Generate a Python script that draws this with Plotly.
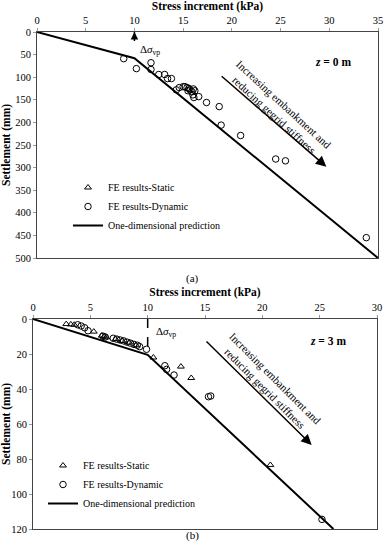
import plotly.graph_objects as go

# ---------- data: panel (a) z = 0 m ----------
a_dyn_stress = [8.9, 10.2, 11.7, 11.7, 12.5, 13.1, 13.4, 13.8, 14.3, 14.6, 15.0, 15.2, 15.4, 15.5,
                15.6, 15.7, 15.9, 16.0, 16.05, 16.1, 16.2, 16.6, 17.4, 18.7, 18.9, 20.9, 24.5, 25.5, 33.8]
a_dyn_settle = [59, 81, 68, 83, 94, 94, 103, 103, 128, 123, 121, 121, 123, 130,
                125, 128, 132, 139, 126, 145, 130, 143, 156, 165, 206, 229, 281, 285, 455]
a_stat_stress = []
a_stat_settle = []
a_pred_stress = [0, 10, 35]
a_pred_settle = [0, 58, 500]
a_vp_stress = [10, 10]
a_vp_settle = [0, 40]

# ---------- data: panel (b) z = 3 m ----------
b_stat_stress = [2.9, 3.3, 3.6, 5.3, 6.0, 6.2, 6.4, 7.2, 7.8, 8.4, 9.0, 10.5, 12.9, 13.8, 20.7]
b_stat_settle = [2.9, 3.1, 3.3, 7.2, 9.5, 10.0, 10.5, 11.5, 12.5, 13.5, 15.0, 22.0, 27.2, 33.7, 83.4]
b_dyn_stress = [3.9, 4.2, 4.5, 4.8, 6.1, 6.3, 7.0, 7.3, 7.6, 7.9, 8.2, 8.5, 8.8, 9.1, 9.3, 9.9,
                11.5, 11.65, 12.3, 15.3, 15.5, 25.2]
b_dyn_settle = [3.3, 4.0, 5.0, 6.7, 9.8, 10.3, 11.0, 11.5, 12.0, 12.5, 13.2, 13.8, 14.5, 15.0, 15.8, 17.3,
                26.7, 28.8, 32.0, 44.4, 44.0, 114.5]
b_pred_stress = [0, 10, 26.2]
b_pred_settle = [0, 20.5, 120]
b_vp_stress = [10, 10]
b_vp_settle = [0, 18]

a_xticks = [0, 5, 10, 15, 20, 25, 30, 35]
a_yticks = [0, 50, 100, 150, 200, 250, 300, 350, 400, 450, 500]
b_xticks = [0, 5, 10, 15, 20, 25, 30]
b_yticks = [0, 20, 40, 60, 80, 100, 120]

W, H = 385, 550
FONT = "Liberation Serif"

fig = go.Figure()

def add_panel(xa, ya, stat_x, stat_y, dyn_x, dyn_y, pred_x, pred_y, vp_x, vp_y, legend):
    fig.add_trace(go.Scatter(x=stat_x if stat_x else [None], y=stat_y if stat_y else [None],
                             mode="markers", name="FE results-Static",
                             marker=dict(symbol="triangle-up-open", size=6, color="black",
                                         line=dict(width=1, color="black")),
                             xaxis=xa, yaxis=ya, legend=legend))
    fig.add_trace(go.Scatter(x=dyn_x, y=dyn_y, mode="markers", name="FE results-Dynamic",
                             marker=dict(symbol="circle-open", size=6.5, color="black",
                                         line=dict(width=1, color="black")),
                             xaxis=xa, yaxis=ya, legend=legend))
    fig.add_trace(go.Scatter(x=pred_x, y=pred_y, mode="lines", name="One-dimensional prediction",
                             line=dict(color="black", width=2),
                             xaxis=xa, yaxis=ya, legend=legend))
    fig.add_trace(go.Scatter(x=vp_x, y=vp_y, mode="lines", showlegend=False,
                             line=dict(color="black", width=1.5, dash="dash"),
                             xaxis=xa, yaxis=ya))

add_panel("x", "y", a_stat_stress, a_stat_settle, a_dyn_stress, a_dyn_settle,
          a_pred_stress, a_pred_settle, a_vp_stress, a_vp_settle, "legend")
add_panel("x2", "y2", b_stat_stress, b_stat_settle, b_dyn_stress, b_dyn_settle,
          b_pred_stress, b_pred_settle, b_vp_stress, b_vp_settle, "legend2")

axis_common = dict(showline=True, linecolor="#444", linewidth=1, mirror=True, automargin=False,
                   showgrid=False, zeroline=False, ticks="outside", ticklen=3,
                   tickcolor="#999", tickfont=dict(family=FONT, size=10.5, color="black"))

fig.update_layout(
    width=W, height=H, margin=dict(l=0, r=0, t=0, b=0),
    paper_bgcolor="white", plot_bgcolor="white",
    font=dict(family=FONT, color="black"),
    xaxis=dict(domain=[37 / W, 378 / W], range=[0, 35], tickvals=a_xticks, side="top",
               anchor="y",
               title=dict(text="<b>Stress increment (kPa)</b>", font=dict(size=11.5), standoff=2),
               **axis_common),
    yaxis=dict(domain=[1 - 258 / H, 1 - 32 / H], range=[500, 0], tickvals=a_yticks, anchor="x",
               title=dict(text="<b>Settlement (mm)</b>", font=dict(size=11.5), standoff=4),
               **axis_common),
    xaxis2=dict(domain=[33 / W, 377 / W], range=[0, 30], tickvals=b_xticks, side="top",
                anchor="y2",
                title=dict(text="<b>Stress increment (kPa)</b>", font=dict(size=11.5), standoff=2),
                **axis_common),
    yaxis2=dict(domain=[1 - 529 / H, 1 - 319 / H], range=[120, 0], tickvals=b_yticks, anchor="x2",
                title=dict(text="<b>Settlement (mm)</b>", font=dict(size=11.5), standoff=4),
                **axis_common),
    legend=dict(x=68 / W, y=1 - 173 / H, xanchor="left", yanchor="top",
                font=dict(family=FONT, size=10), bgcolor="rgba(0,0,0,0)",
                tracegroupgap=0, itemwidth=30),
    legend2=dict(x=43 / W, y=1 - 451 / H, xanchor="left", yanchor="top",
                 font=dict(family=FONT, size=10), bgcolor="rgba(0,0,0,0)",
                 tracegroupgap=0, itemwidth=30),
    showlegend=True,
)

txt = "Increasing embankment and<br>reducing gegrid stiffness"
ann = [
    # panel a
    dict(xref="x", yref="y", x=29.7, y=298, axref="x", ayref="y", ax=18.8, ay=95,
         showarrow=True, arrowhead=2, arrowsize=1.4, arrowwidth=1.5, arrowcolor="black", text=""),
    dict(xref="x", yref="y", x=24.9, y=172, text=txt, showarrow=False, textangle=42.6,
         font=dict(family=FONT, size=11, color="black")),
    dict(xref="x", yref="y", x=30.4, y=66, text="<b><i>z</i> = 0 m</b>", showarrow=False,
         font=dict(family=FONT, size=11.5, color="black")),
    dict(xref="x", yref="y", x=10.4, y=40, text="Δ<i>σ</i><sub>vp</sub>", showarrow=False,
         xanchor="left", font=dict(family=FONT, size=11, color="black")),
    dict(xref="x", yref="y", x=10, y=0, axref="x", ayref="y", ax=10, ay=12,
         showarrow=True, arrowhead=2, arrowsize=1, arrowwidth=1.5, arrowcolor="black", text=""),
    # panel b
    dict(xref="x2", yref="y2", x=24.3, y=72, axref="x2", ayref="y2", ax=15.0, ay=12,
         showarrow=True, arrowhead=2, arrowsize=1.4, arrowwidth=1.5, arrowcolor="black", text=""),
    dict(xref="x2", yref="y2", x=20.75, y=37, text=txt, showarrow=False, textangle=45,
         font=dict(family=FONT, size=11, color="black")),
    dict(xref="x2", yref="y2", x=25.7, y=12.6, text="<b><i>z</i> = 3 m</b>", showarrow=False,
         font=dict(family=FONT, size=11.5, color="black")),
    dict(xref="x2", yref="y2", x=10.55, y=7.4, text="Δ<i>σ</i><sub>vp</sub>", showarrow=False,
         xanchor="left", font=dict(family=FONT, size=11, color="black")),
    # captions
    dict(xref="paper", yref="paper", x=193 / W, y=1 - 278 / H, text="(a)", showarrow=False,
         font=dict(family=FONT, size=11, color="black")),
    dict(xref="paper", yref="paper", x=193 / W, y=1 - 544 / H, text="(b)", showarrow=False,
         font=dict(family=FONT, size=11, color="black")),
]
fig.update_layout(annotations=ann)

fig.write_html("out.html", config={"displayModeBar": False},
               post_script="document.body.style.margin='0';document.body.style.overflow='hidden';")
